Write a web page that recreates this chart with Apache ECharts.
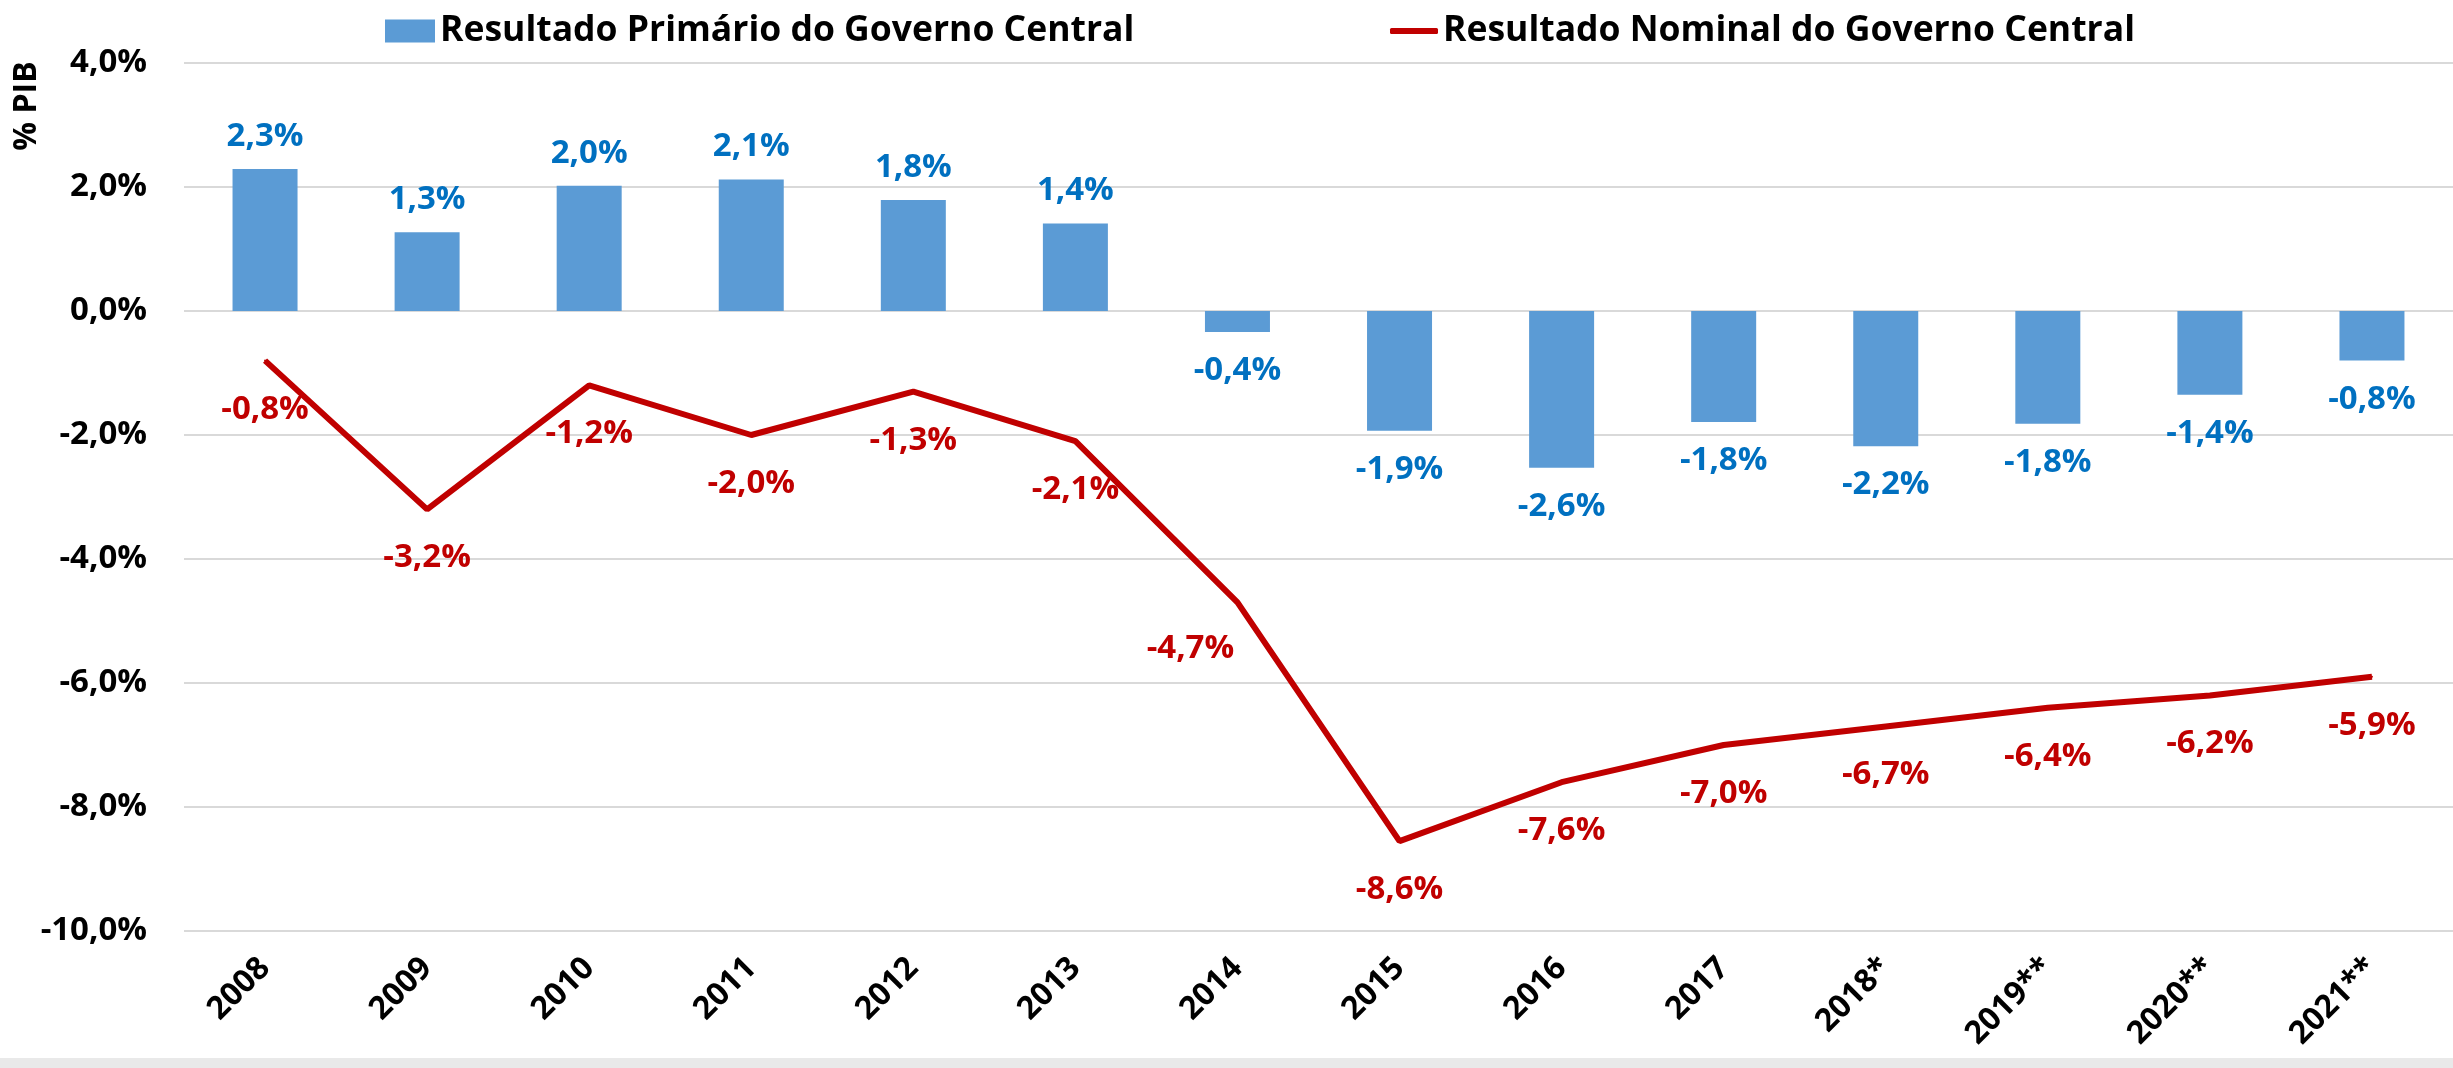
<!DOCTYPE html>
<html>
<head>
<meta charset="utf-8">
<script src="https://cdn.jsdelivr.net/npm/echarts@6/dist/echarts.min.js"></script>
<style>
  html, body { margin: 0; padding: 0; background: #fff; }
  #chart { width: 2453px; height: 1068px; }
</style>
</head>
<body>
<div id="chart"></div>
<script>
const years = ['2008', '2009', '2010', '2011', '2012', '2013', '2014', '2015', '2016', '2017', '2018*', '2019**', '2020**', '2021**']

// Resultado Primário (bars), % PIB
const primario = [2.29, 1.27, 2.02, 2.12, 1.79, 1.41, -0.34, -1.93, -2.53, -1.79, -2.18, -1.82, -1.35, -0.80]
const primarioLabels = ['2,3%', '1,3%', '2,0%', '2,1%', '1,8%', '1,4%', '-0,4%', '-1,9%', '-2,6%', '-1,8%', '-2,2%', '-1,8%', '-1,4%', '-0,8%']

// Resultado Nominal (line), % PIB
const nominal = [-0.8, -3.2, -1.2, -2.0, -1.3, -2.1, -4.7, -8.55, -7.6, -7.0, -6.7, -6.4, -6.2, -5.9]
const nominalLabels = ['-0,8%', '-3,2%', '-1,2%', '-2,0%', '-1,3%', '-2,1%', '-4,7%', '-8,6%', '-7,6%', '-7,0%', '-6,7%', '-6,4%', '-6,2%', '-5,9%']

const yTicks = { min: -10, max: 4, interval: 2 }

const font = 'Open Sans'
const blue = '#5B9BD5'
const blueText = '#0070C0'
const red = '#C00000'

const chart = echarts.init(document.getElementById('chart'))

const barData = primario.map((v, i) => ({
  value: v,
  label: { position: v >= 0 ? 'top' : 'bottom', distance: v >= 0 ? 16 : 22, formatter: primarioLabels[i] }
}))

const lineData = nominal.map((v, i) => {
  const item = { value: v, label: { formatter: nominalLabels[i] } }
  if (years[i] === '2014') item.label.offset = [-47, -2]
  return item
})

chart.setOption({
  animation: false,
  backgroundColor: '#fff',
  grid: { left: 184, right: 0, top: 63, bottom: 137 },
  legend: [
    {
      left: 380, top: 8,
      itemWidth: 50, itemHeight: 23,
      textStyle: { fontFamily: font, fontWeight: 'bold', fontSize: 35.5, color: '#000' },
      data: [{ name: 'Resultado Primário do Governo Central', icon: 'rect' }]
    },
    {
      left: 1385, top: 8,
      itemWidth: 48, itemHeight: 6,
      textStyle: { fontFamily: font, fontWeight: 'bold', fontSize: 35.5, color: '#000' },
      data: [{ name: 'Resultado Nominal do Governo Central', icon: 'roundRect' }]
    }
  ],
  xAxis: {
    type: 'category',
    data: years,
    axisLine: { show: false, onZero: false },
    axisTick: { show: false },
    axisLabel: {
      interval: 0, rotate: 45, margin: 32,
      fontFamily: font, fontWeight: 'bold', fontSize: 32, color: '#000'
    }
  },
  yAxis: {
    type: 'value',
    min: yTicks.min, max: yTicks.max, interval: yTicks.interval,
    axisLine: { show: false },
    axisTick: { show: false },
    splitLine: { lineStyle: { color: '#d9d9d9', width: 2 } },
    axisLabel: {
      margin: 37,
      fontFamily: font, fontWeight: 'bold', fontSize: 33, color: '#000',
      formatter: v => v.toFixed(1).replace('.', ',') + '%'
    }
  },
  graphic: [
    {
      type: 'text', x: 27, y: 106, rotation: Math.PI / 2,
      style: { text: '% PIB', fontFamily: font, fontWeight: 'bold', fontSize: 32, fill: '#000', align: 'center', verticalAlign: 'middle' }
    },
    {
      type: 'rect', shape: { x: 0, y: 1058, width: 2453, height: 10 },
      style: { fill: '#e9e9e9' }, silent: true
    }
  ],
  series: [
    {
      name: 'Resultado Primário do Governo Central',
      type: 'bar',
      barWidth: 65,
      itemStyle: { color: blue },
      label: {
        show: true,
        fontFamily: font, fontWeight: 'bold', fontSize: 33, color: blueText
      },
      data: barData
    },
    {
      name: 'Resultado Nominal do Governo Central',
      type: 'line',
      symbol: 'circle',
      symbolSize: 2,
      itemStyle: { color: red },
      lineStyle: { color: red, width: 6 },
      label: {
        show: true, position: 'bottom', distance: 31,
        fontFamily: font, fontWeight: 'bold', fontSize: 33, color: red
      },
      data: lineData,
      z: 3
    }
  ]
})
</script>
</body>
</html>
